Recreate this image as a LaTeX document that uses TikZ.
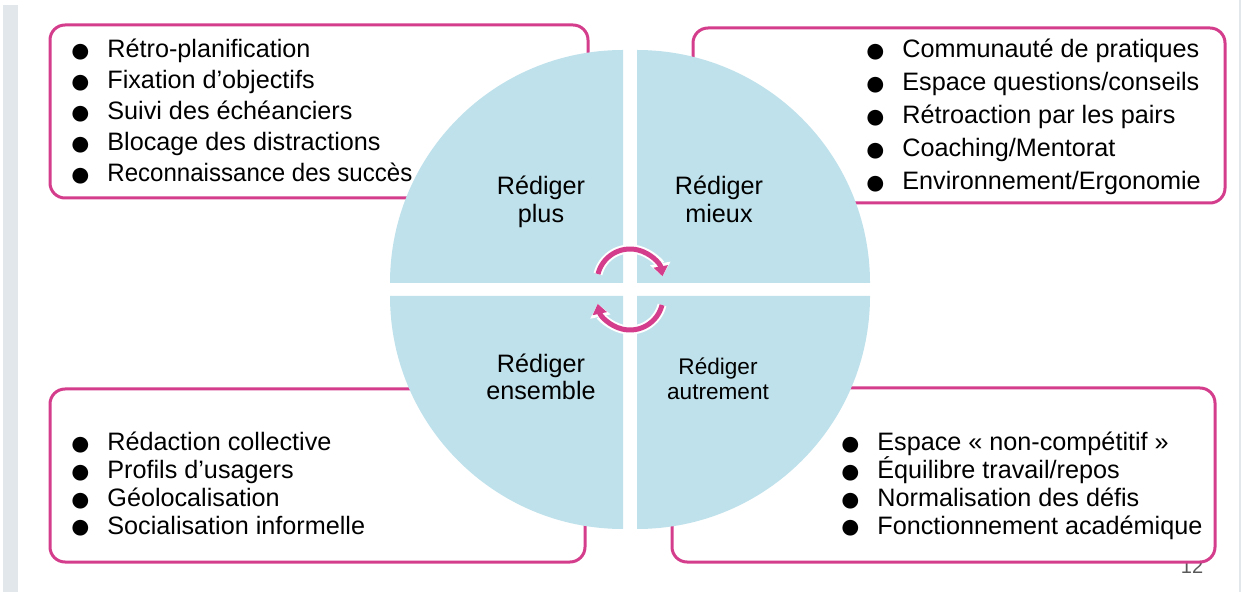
\documentclass[tikz,border=0pt]{standalone}
\usepackage{fontspec}
\setmainfont{Liberation Sans}
\usetikzlibrary{arrows.meta}

\definecolor{rose}{HTML}{D43D8C}
\definecolor{ciel}{HTML}{BFE1EB}
\definecolor{barre}{HTML}{E1E7EA}
\definecolor{numero}{HTML}{595959}

\newcommand{\puce}{\makebox[10pt][c]{\raisebox{-2.4pt}{\scalebox{1.45}{●}}}\hspace{8.5pt}}

\begin{document}
\begin{tikzpicture}[x=0.5pt,y=-0.5pt,
  cadre/.style={draw=rose,line width=1.5pt,rounded corners=7.5pt,fill=white},
  quart/.style={fill=ciel},
  item/.style={anchor=base west,inner sep=0pt,text height=9pt,text depth=2pt,font=\fontsize{12.6}{15}\selectfont},
  titre/.style={anchor=base,inner sep=0pt,align=center,font=\fontsize{12.6}{14}\selectfont},
  fleche/.style={draw=rose,line width=2.5pt,-{Triangle[length=5pt,width=7pt]}},
  halo/.style={draw=white,line width=4.5pt,-{Triangle[length=6.5pt,width=10pt]}}]
\useasboundingbox (0,0) rectangle (1241,592);
\fill[barre] (3,5) rectangle (18,592);
\draw[barre,line width=0.8pt] (1240,0) -- (1240,592);
\node[text=numero,inner sep=0pt,font=\fontsize{10}{10}\selectfont,anchor=base] (page) at (1192,573) {12};

% cadres
\draw[cadre] (50,25) rectangle (588,198);
\draw[cadre] (693,28) rectangle (1225,203);
\draw[cadre] (50,389) rectangle (585,562);
\draw[cadre] (672,388) rectangle (1215,562);

% cercle en quatre quarts
\fill[quart] (623,283) -- ++(-233,0) arc[start angle=180,end angle=270,radius=233] -- cycle;
\fill[quart] (637,283) -- ++(0,-233) arc[start angle=270,end angle=360,radius=233] -- cycle;
\fill[quart] (637,296) -- ++(233,0) arc[start angle=0,end angle=90,radius=233] -- cycle;
\fill[quart] (623,296) -- ++(0,233) arc[start angle=90,end angle=180,radius=233] -- cycle;

% fleches du cycle
\coordinate (haut) at (630,282);
\coordinate (bas) at (630,297);
\draw[halo] (haut) ++(194:33) arc[start angle=194,end angle=350,radius=33];
\draw[fleche] (haut) ++(194:33) arc[start angle=194,end angle=350,radius=33];
\draw[halo] (bas) ++(14:33) arc[start angle=14,end angle=168,radius=33];
\draw[fleche] (bas) ++(14:33) arc[start angle=14,end angle=168,radius=33];

% titres
\node[titre] (plus) at (541,223) {Rédiger\\plus};
\node[titre] (mieux) at (719,223) {Rédiger\\mieux};
\node[titre,font=\fontsize{12.6}{13.5}\selectfont] (ensemble) at (541,400) {Rédiger\\ensemble};
\node[titre,font=\fontsize{11.3}{12.5}\selectfont] (autrement) at (718,400) {Rédiger\\autrement};

% listes
\foreach \t [count=\i] in {Rétro-planification,Fixation d’objectifs,Suivi des échéanciers,Blocage des distractions,\scalebox{0.955}[1]{Reconnaissance des succès}}
  \node[item] (pl\i) at (70,{58+31*(\i-1)}) {\puce\t};
\foreach \t [count=\i] in {Communauté de pratiques,Espace questions/conseils,Rétroaction par les pairs,Coaching/Mentorat,Environnement/Ergonomie}
  \node[item] (mx\i) at (865,{58+33*(\i-1)}) {\puce\t};
\foreach \t [count=\i] in {Rédaction collective,Profils d’usagers,Géolocalisation,Socialisation informelle}
  \node[item] (en\i) at (70,{451+27.7*(\i-1)}) {\puce\t};
\foreach \t [count=\i] in {Espace «~non-compétitif~»,Équilibre travail/repos,Normalisation des défis,Fonctionnement académique}
  \node[item] (au\i) at (840,{451+27.7*(\i-1)}) {\puce\t};
\end{tikzpicture}
\end{document}
